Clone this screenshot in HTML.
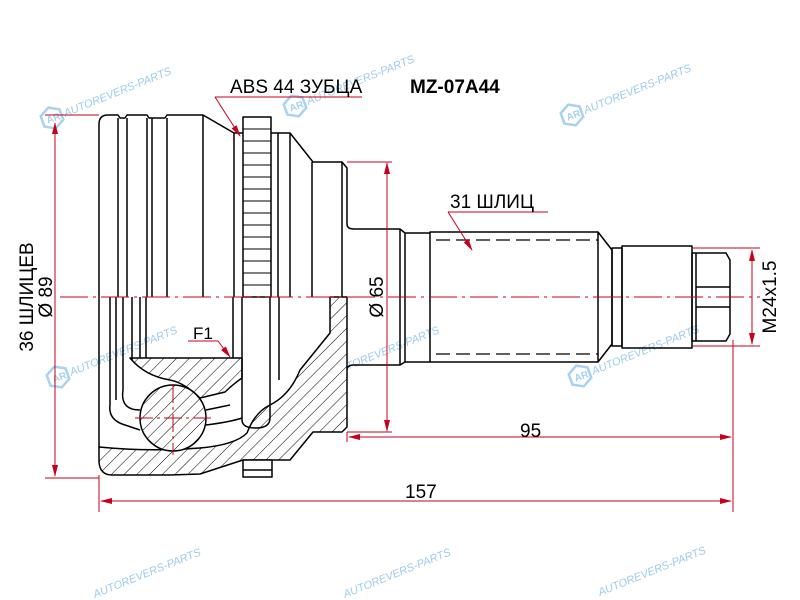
<!DOCTYPE html>
<html><head><meta charset="utf-8"><style>
html,body{margin:0;padding:0;background:#fff;}
svg{display:block;}
</style></head><body>
<svg width="800" height="600" viewBox="0 0 800 600" xmlns="http://www.w3.org/2000/svg" font-family="Liberation Sans, DejaVu Sans, sans-serif">
<defs>
<pattern id="h" width="9" height="9" patternUnits="userSpaceOnUse" patternTransform="rotate(45)">
<rect width="9" height="9" fill="#fff"/><line x1="0" y1="0" x2="0" y2="9" stroke="#000" stroke-width="1"/>
</pattern>
<marker id="a" markerWidth="12" markerHeight="8" refX="11" refY="4" orient="auto" markerUnits="userSpaceOnUse"><path d="M0,1 L12,4 L0,7 Z" fill="#c8001e"/></marker>
<g id="wm">
<path d="M0,-11 L10,-5.5 L10,5.5 L0,11 L-10,5.5 L-10,-5.5 Z" fill="none" stroke="#a8d2ee" stroke-width="2.5" transform="rotate(-20)"/>
<text x="-6" y="4" font-size="10" fill="#a8d2ee" font-weight="bold" transform="rotate(-20)">AR</text>
<text x="13" y="4" font-size="11" fill="#9ccbea" font-style="italic" transform="rotate(-22)">AUTOREVERS-PARTS</text>
</g>
</defs>

<use href="#wm" x="52" y="118"/>
<use href="#wm" x="295" y="106"/>
<use href="#wm" x="572" y="115"/>
<use href="#wm" x="58" y="377"/>
<use href="#wm" x="320" y="377"/>
<use href="#wm" x="580" y="376"/>
<text x="95" y="598" font-size="11" fill="#9ccbea" font-style="italic" transform="rotate(-22 95 598)">AUTOREVERS-PARTS</text>
<text x="345" y="598" font-size="11" fill="#9ccbea" font-style="italic" transform="rotate(-22 345 598)">AUTOREVERS-PARTS</text>
<text x="600" y="596" font-size="11" fill="#9ccbea" font-style="italic" transform="rotate(-22 600 596)">AUTOREVERS-PARTS</text>

<g fill="none" stroke="#000" stroke-width="1.5" stroke-linejoin="round">
<path d="M99,297 L99,124 Q99,115 108,115 L118,115 L120,118 L125,118 L127,115 L147,115 L149,118 L165,118 L167,115 L203,115 L234,133 L243,133"/>
<rect x="243" y="117" width="28" height="180"/>
<path d="M271,133 L290,133 L313,162 L342,162 L347,168 L347,224 Q347,229 354,229 L400,229 L405,233 L430,233"/>
<path d="M243,129H271M243,141H271M243,153H271M243,165H271M243,177H271M243,189H271M243,201H271M243,213H271M243,225H271M243,237H271M243,249H271M243,261H271M243,273H271M243,285H271" stroke-width="1"/>
<path d="M118,118V297M127,118V297M147,118V297M152,118V297M167,118V297M203,115V297M234,133V297M278,133V297M290,133V297M312,162V297M342,162V297"/>
<path d="M347,370 Q347,365 354,365 L400,365 L405,362 L430,362"/>
<path d="M400,229V365M405,233V362"/>
<rect x="430" y="232" width="168" height="130"/>
<path d="M436,240H598M436,354H598" stroke-dasharray="14,6" stroke-width="1.2"/>
<path d="M598,232 L612,250 L612,344 L598,362"/>
<rect x="612" y="248" width="10" height="98"/>
<rect x="622" y="246" width="70" height="102"/>
<path d="M692,253 L726,253 L730,260 L730,334 L726,341 L692,341 Z"/>
<path d="M696,253V341M696,287H730M696,307H730"/>

<path d="M99,297V447"/>
<path fill="url(#h)" d="M99,447 L99,462 Q100,475 112,475 L170,475 L200,474 L243,460 L290,460 L313,432 L342,432 L347,427 L347,297 L330,297 L330,333 L300,370 Q290,395 270,405 Q255,412 247,433 Q235,445 200,448 Q150,452 99,447 Z"/>
<rect x="243" y="460" width="29" height="17" fill="#fff"/>
<path d="M243,470H272"/>
<path fill="url(#h)" d="M130,358 L242,358 L242,378 Q232,385 225,392 L200,398 Q185,383 170,380 Q145,376 130,358 Z"/>
<circle cx="173" cy="418" r="33" fill="url(#h)"/>
<path d="M110,405 Q108,420 125,425 L140,430 M206,425 Q230,422 242,418"/>
<path d="M123,390 Q120,410 140,410 M206,410 L230,405"/>
<path d="M110,297V405M116,297V400M123,297V390M132,297V360M140,297V358M146,297V358M233,297V358M242,297V420 Q242,428 256,428 Q270,428 270,418 V297M279,297V380"/>
</g>

<line x1="60" y1="297" x2="760" y2="297" stroke="#c8001e" stroke-width="1" stroke-dasharray="28,5,3,5"/>
<path d="M173,385V455M135,418H212" stroke="#c8001e" stroke-width="1" stroke-dasharray="18,4,3,4"/>

<g stroke="#c8001e" stroke-width="1" fill="none">
<path d="M45,115H99M45,478H99"/>
<line x1="55" y1="470" x2="55" y2="123" marker-end="url(#a)"/>
<line x1="55" y1="125" x2="55" y2="476" marker-end="url(#a)"/>
<path d="M347,162H392M347,432H392"/>
<line x1="387" y1="300" x2="387" y2="163" marker-end="url(#a)"/>
<line x1="387" y1="300" x2="387" y2="431" marker-end="url(#a)"/>
<path d="M347,432V442M733,340V512M99,475V512"/>
<line x1="540" y1="437" x2="349" y2="437" marker-end="url(#a)"/>
<line x1="540" y1="437" x2="731" y2="437" marker-end="url(#a)"/>
<line x1="420" y1="501" x2="101" y2="501" marker-end="url(#a)"/>
<line x1="420" y1="501" x2="731" y2="501" marker-end="url(#a)"/>
<path d="M692,248H760M692,346H760"/>
<line x1="752" y1="297" x2="752" y2="250" marker-end="url(#a)"/>
<line x1="752" y1="297" x2="752" y2="344" marker-end="url(#a)"/>
<path d="M215,97H362"/>
<line x1="215" y1="97" x2="240" y2="136" marker-end="url(#a)"/>
<path d="M448,212H548"/>
<line x1="448" y1="212" x2="472" y2="250" marker-end="url(#a)"/>
<path d="M188,341H218"/>
<line x1="218" y1="341" x2="230" y2="357" marker-end="url(#a)"/>
</g>

<g fill="#000">
<text x="230" y="93" font-size="19">ABS 44 ЗУБЦА</text>
<text x="410" y="93" font-size="19" font-weight="bold">MZ-07A44</text>
<text x="450" y="208" font-size="19">31 ШЛИЦ</text>
<text x="193" y="339" font-size="17">F1</text>
<text x="520" y="437" font-size="19">95</text>
<text x="405" y="498" font-size="19">157</text>
<text transform="translate(33,297) rotate(-90)" text-anchor="middle" font-size="19">36 ШЛИЦЕВ</text>
<text transform="translate(52,297) rotate(-90)" text-anchor="middle" font-size="19">Ø 89</text>
<text transform="translate(383,297) rotate(-90)" text-anchor="middle" font-size="19">Ø 65</text>
<text transform="translate(776,297) rotate(-90)" text-anchor="middle" font-size="19">M24x1.5</text>
</g>
</svg>
</body></html>
